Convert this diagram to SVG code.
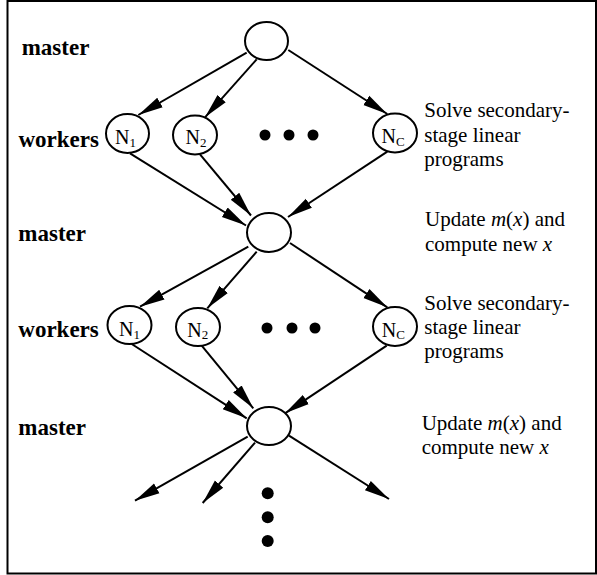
<svg xmlns="http://www.w3.org/2000/svg" width="597" height="575" viewBox="0 0 597 575">
<style>
.nd{fill:#fff;stroke:#000;stroke-width:2}
.ed{stroke:#000;stroke-width:2;fill:none}
.lab{font-family:"Liberation Serif","Times New Roman",serif;font-weight:bold;font-size:23px;fill:#000}
.txt{font-family:"Liberation Serif","Times New Roman",serif;font-size:21px;fill:#000}
.nt{font-family:"Liberation Serif","Times New Roman",serif;font-size:20px;fill:#000}
.sub{font-size:13px}
.it{font-style:italic}
.dot{fill:#000}
</style>
<defs>
<marker id="ah" markerUnits="userSpaceOnUse" markerWidth="27" markerHeight="14" refX="25" refY="7" orient="auto" viewBox="0 0 27 14">
<path d="M0,1.5 L25,7 L0,12.5 Z" fill="#000"/>
</marker>
</defs>
<rect x="7.5" y="1" width="588.5" height="572.5" fill="#fff" stroke="#000" stroke-width="2"/>

<g id="connectors">
<line class="ed" x1="246.7" y1="52.7" x2="138.3" y2="115" marker-end="url(#ah)"/>
<line class="ed" x1="256.7" y1="59.3" x2="205" y2="117.3" marker-end="url(#ah)"/>
<line class="ed" x1="288.3" y1="50" x2="387.3" y2="114" marker-end="url(#ah)"/>
<line class="ed" x1="130" y1="153.3" x2="246" y2="225.5" marker-end="url(#ah)"/>
<line class="ed" x1="200" y1="154.3" x2="251" y2="215.5" marker-end="url(#ah)"/>
<line class="ed" x1="387.3" y1="151.7" x2="288" y2="217" marker-end="url(#ah)"/>
<line class="ed" x1="248.3" y1="246.7" x2="140" y2="306.7" marker-end="url(#ah)"/>
<line class="ed" x1="256.7" y1="251.7" x2="207.3" y2="308.3" marker-end="url(#ah)"/>
<line class="ed" x1="290" y1="243" x2="387.3" y2="307.3" marker-end="url(#ah)"/>
<line class="ed" x1="131.7" y1="344" x2="246.7" y2="418.3" marker-end="url(#ah)"/>
<line class="ed" x1="201.7" y1="345.7" x2="253.3" y2="408.3" marker-end="url(#ah)"/>
<line class="ed" x1="386.7" y1="345.7" x2="285" y2="413.3" marker-end="url(#ah)"/>
<line class="ed" x1="247.7" y1="436.7" x2="135" y2="500.7" marker-end="url(#ah)"/>
<line class="ed" x1="255" y1="442.7" x2="202.7" y2="503" marker-end="url(#ah)"/>
<line class="ed" x1="289" y1="435.7" x2="389" y2="499" marker-end="url(#ah)"/>
</g>

<g id="master1"><ellipse class="nd" cx="266.5" cy="41" rx="21.5" ry="19"/></g>
<g id="w1-n1"><ellipse class="nd" cx="127.5" cy="133.5" rx="21.5" ry="19.5"/><text class="nt" x="115" y="143.5">N<tspan class="sub" dy="3">1</tspan></text></g>
<g id="w1-n2"><ellipse class="nd" cx="195" cy="135" rx="22" ry="19.5"/><text class="nt" x="185.5" y="144">N<tspan class="sub" dy="3">2</tspan></text></g>
<g id="w1-nc"><ellipse class="nd" cx="395" cy="133" rx="22" ry="19.5"/><text class="nt" x="381.5" y="143.3">N<tspan class="sub" dy="2.5">C</tspan></text></g>
<g id="dots1"><circle class="dot" cx="265" cy="135" r="5.5"/><circle class="dot" cx="289" cy="135" r="5.5"/><circle class="dot" cx="313" cy="135" r="5.5"/></g>

<g id="master2"><ellipse class="nd" cx="269" cy="232.5" rx="22" ry="19.5"/></g>
<g id="w2-n1"><ellipse class="nd" cx="129.5" cy="325" rx="22" ry="19"/><text class="nt" x="119" y="336">N<tspan class="sub" dy="2.5">1</tspan></text></g>
<g id="w2-n2"><ellipse class="nd" cx="198" cy="327" rx="22" ry="19"/><text class="nt" x="187.3" y="336.7">N<tspan class="sub" dy="2.5">2</tspan></text></g>
<g id="w2-nc"><ellipse class="nd" cx="395" cy="326.5" rx="22" ry="19.5"/><text class="nt" x="381.7" y="336.7">N<tspan class="sub" dy="2.5">C</tspan></text></g>
<g id="dots2"><circle class="dot" cx="267" cy="328" r="5.5"/><circle class="dot" cx="292" cy="328" r="5.5"/><circle class="dot" cx="315" cy="328" r="5.5"/></g>

<g id="master3"><ellipse class="nd" cx="269" cy="426" rx="22" ry="19"/></g>
<g id="dots3"><circle class="dot" cx="267.7" cy="493.3" r="6"/><circle class="dot" cx="267.7" cy="517.3" r="6"/><circle class="dot" cx="267.7" cy="541" r="6"/></g>

<g id="labels">
<text class="lab" x="21.7" y="55">master</text>
<text class="lab" x="18.5" y="146.7">workers</text>
<text class="lab" x="18.3" y="241">master</text>
<text class="lab" x="18.3" y="336.7">workers</text>
<text class="lab" x="18.3" y="435">master</text>
</g>

<g id="notes">
<text class="txt" x="424.3" y="117">Solve secondary-</text>
<text class="txt" x="424.3" y="141.5">stage linear</text>
<text class="txt" x="424.3" y="165.5">programs</text>
<text class="txt" x="425" y="226">Update <tspan class="it">m</tspan>(<tspan class="it">x</tspan>) and</text>
<text class="txt" x="425" y="250.5">compute new <tspan class="it">x</tspan></text>
<text class="txt" x="424.3" y="309.5">Solve secondary-</text>
<text class="txt" x="424.3" y="333.5">stage linear</text>
<text class="txt" x="424.3" y="357.5">programs</text>
<text class="txt" x="421.7" y="430">Update <tspan class="it">m</tspan>(<tspan class="it">x</tspan>) and</text>
<text class="txt" x="421.7" y="454">compute new <tspan class="it">x</tspan></text>
</g>
</svg>
